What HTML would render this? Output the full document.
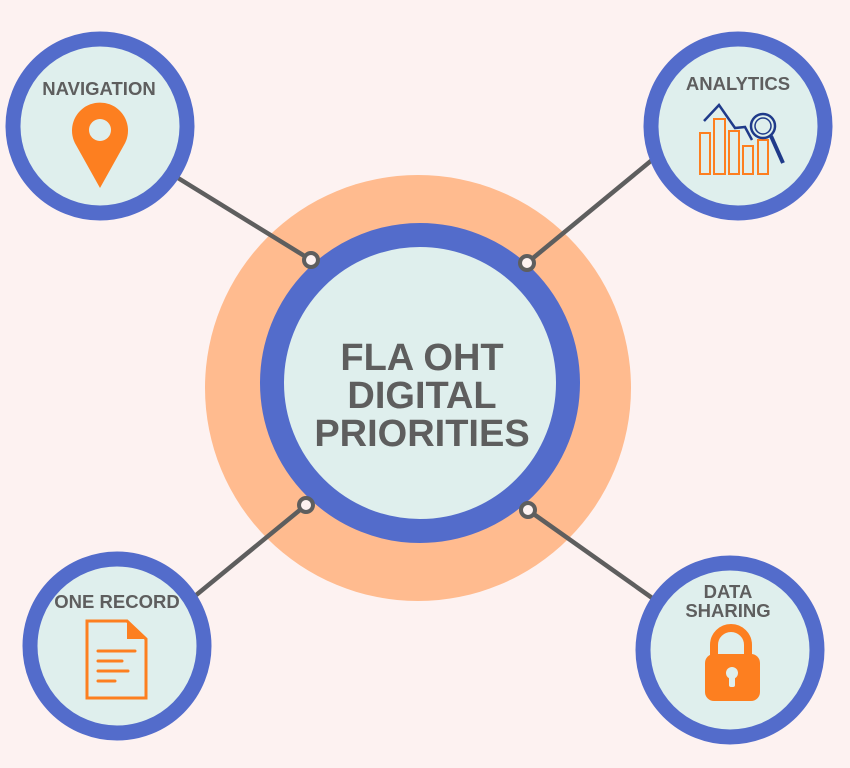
<!DOCTYPE html>
<html><head><meta charset="utf-8"><style>
html,body{margin:0;padding:0;background:#fdf2f1;}
svg{display:block;}
text{font-family:"Liberation Sans",sans-serif;font-weight:bold;fill:#5e5e5e;text-anchor:middle;}
</style></head><body>
<svg width="850" height="768" viewBox="0 0 850 768">
<rect width="850" height="768" fill="#fdf2f1"/>
<circle cx="418" cy="388" r="213" fill="#ffbb8f"/>
<g stroke="#5e5e5e" stroke-width="4.5" fill="none">
<line x1="178" y1="178" x2="311" y2="260"/>
<line x1="652" y1="160" x2="527" y2="263"/>
<line x1="195" y1="596" x2="306" y2="505"/>
<line x1="528" y1="510" x2="655" y2="600"/>
</g>
<circle cx="420" cy="383" r="148" fill="#dfefed" stroke="#536ccb" stroke-width="24"/>
<g fill="#fdf2f1" stroke="#5e5e5e" stroke-width="4">
<circle cx="311" cy="260" r="7"/><circle cx="527" cy="263" r="7"/>
<circle cx="306" cy="505" r="7"/><circle cx="528" cy="510" r="7"/>
</g>
<text x="422" y="370" font-size="38">FLA OHT</text>
<text x="422" y="408" font-size="38">DIGITAL</text>
<text x="422" y="446" font-size="38">PRIORITIES</text>
<g fill="#dfefed" stroke="#536ccb" stroke-width="15">
<circle cx="100" cy="126" r="87"/>
<circle cx="738" cy="126" r="87"/>
<circle cx="117" cy="646" r="87"/>
<circle cx="730" cy="650" r="87"/>
</g>
<text x="99" y="95" font-size="18.5">NAVIGATION</text>
<path d="M100 188 L76 145 A28 28 0 1 1 124 145 Z" fill="#fd7f20"/>
<circle cx="100" cy="130" r="11" fill="#dfefed"/>
<text x="738" y="90" font-size="18.5">ANALYTICS</text>
<g fill="none" stroke="#fd7f20" stroke-width="2">
<rect x="700" y="133" width="10" height="41"/><rect x="714" y="119" width="11" height="55"/>
<rect x="729" y="131" width="10" height="43"/><rect x="743" y="146" width="10" height="28"/>
<rect x="758" y="140" width="10" height="34"/>
</g>
<g fill="none" stroke="#1f3a8a" stroke-width="2.5">
<polyline points="704,121 719,105 735,128 745,127 752,140"/>
<circle cx="763" cy="126" r="12"/><circle cx="763" cy="126" r="8" stroke-width="1.5"/>
<line x1="771" y1="136" x2="783" y2="163" stroke-width="4"/>
</g>
<text x="117" y="608" font-size="18.5">ONE RECORD</text>
<path d="M87 621 H127 L146 639 V698 H87 Z" fill="none" stroke="#fd7f20" stroke-width="3"/>
<path d="M127 621 L146 639 H127 Z" fill="#fd7f20"/>
<g stroke="#fd7f20" stroke-width="3" stroke-linecap="round">
<line x1="98" y1="651" x2="135" y2="651"/><line x1="98" y1="661" x2="122" y2="661"/>
<line x1="98" y1="671" x2="128" y2="671"/><line x1="98" y1="681" x2="115" y2="681"/>
</g>
<text x="728" y="598" font-size="18.5">DATA</text>
<text x="728" y="617" font-size="18.5">SHARING</text>
<path d="M714 658 V645 A17 17 0 0 1 748 645 V658" fill="none" stroke="#fd7f20" stroke-width="8"/>
<rect x="705" y="654" width="55" height="47" rx="9" fill="#fd7f20"/>
<circle cx="732" cy="673" r="6" fill="#dfefed"/>
<rect x="729" y="675" width="6" height="12" rx="2" fill="#dfefed"/>
</svg>
</body></html>
